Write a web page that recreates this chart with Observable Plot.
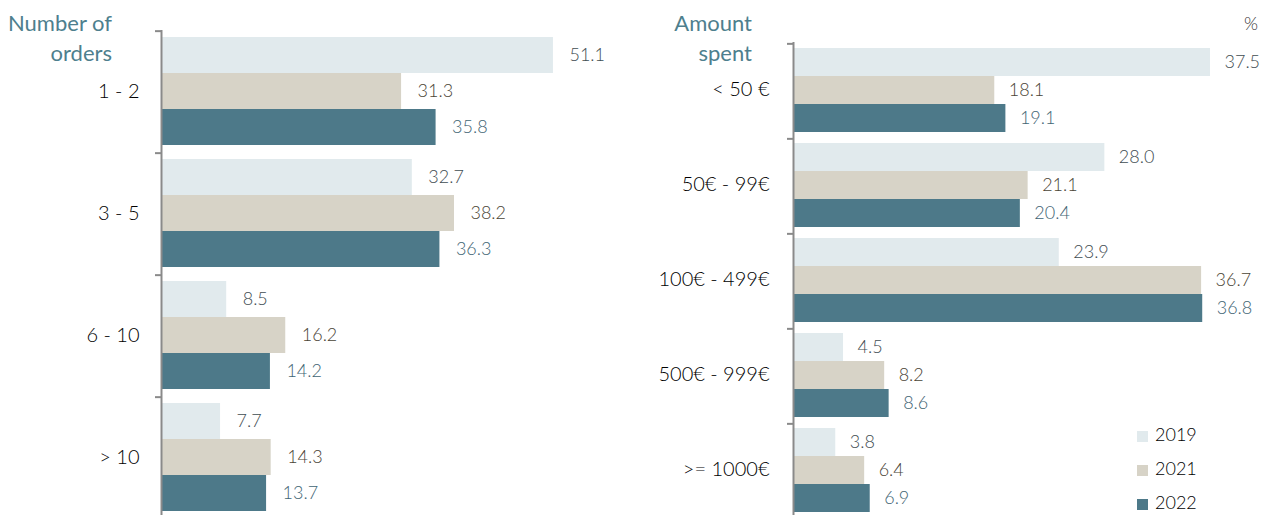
<!DOCTYPE html>
<html><head><meta charset="utf-8">
<script src="https://cdn.jsdelivr.net/npm/d3@7"></script>
<script src="https://cdn.jsdelivr.net/npm/@observablehq/plot@0.6"></script>
<style>
body{margin:0;background:#fff;font-family:Lato,sans-serif;font-weight:300;overflow:hidden}
#wrap{position:relative;width:1261px;height:515px;overflow:hidden}
.pl{position:absolute;top:0}
.title{position:absolute;top:8px;text-align:right;color:#4e7f8e;font-size:22px;line-height:30px;font-weight:400}
.leg{position:absolute;left:1137px;font-size:18px;color:#000;height:20px;line-height:20px}
.leg span{display:inline-block;width:11px;height:11px;margin-right:7px;vertical-align:-1px}
</style></head>
<body><div id="wrap"></div>
<script>
const years = ["2019", "2021", "2022"];
const barColors = ["#e1eaed", "#d7d3c7", "#4d7989"];
const labelColors = ["#3f4d52", "#4a4436", "#3f6574"];

const orderCats = ["1 - 2", "3 - 5", "6 - 10", "> 10"];
const orders2019 = [51.1, 32.7, 8.5, 7.7];
const orders2021 = [31.3, 38.2, 16.2, 14.3];
const orders2022 = [35.8, 36.3, 14.2, 13.7];

const spentCats = ["< 50 €", "50€ - 99€", "100€ - 499€", "500€ - 999€", ">= 1000€"];
const spent2019 = [37.5, 28.0, 23.9, 4.5, 3.8];
const spent2021 = [18.1, 21.1, 36.7, 8.2, 6.4];
const spent2022 = [19.1, 20.4, 36.8, 8.6, 6.9];

function rowsOf(cats, series) {
  const rows = [];
  cats.forEach((c, i) => series.forEach((s, j) => rows.push({cat: c, year: years[j], value: s[i]})));
  return rows;
}

function panel(cats, series, o) {
  const rows = rowsOf(cats, series);
  const step = (o.height - o.marginTop - o.marginBottom) / cats.length;
  const inner = step / (3 + 2 * o.po);
  const tickDy = -(o.po * inner + inner / 2);
  const tickLen = 6 / ((o.width - o.marginLeft - o.marginRight) / o.xmax);
  return Plot.plot({
    width: o.width, height: o.height,
    marginLeft: o.marginLeft, marginRight: o.marginRight,
    marginTop: o.marginTop, marginBottom: o.marginBottom,
    style: {fontFamily: "Lato, sans-serif", fontWeight: 300, fontSize: "20px", color: "#000", background: "transparent", overflow: "visible"},
    facet: {data: rows, y: "cat"},
    fy: {domain: cats, padding: 0, tickSize: 0, tickPadding: o.tickPadding, label: null},
    y: {domain: years, paddingInner: 0, paddingOuter: o.po, axis: null},
    x: {domain: [0, o.xmax], axis: null},
    color: {domain: years, range: barColors},
    marks: [
      Plot.barX(rows, {x: "value", y: "year", fill: "year"}),
      Plot.ruleX([0], {stroke: "#8a8a8a", strokeWidth: 2}),
      Plot.ruleY([years[0]], {y: d => d, x1: -tickLen, x2: 0, dy: tickDy, stroke: "#8a8a8a", strokeWidth: 2}),
      ...years.map((yr, j) => Plot.text(rows, {
        filter: d => d.year === yr, x: "value", y: "year",
        text: d => d.value.toFixed(1), textAnchor: "start", dx: o.dx,
        fill: labelColors[j], fontSize: 18
      }))
    ]
  });
}

const wrap = document.getElementById("wrap");
const left = panel(orderCats, [orders2019, orders2021, orders2022],
  {width: 630, height: 520, marginLeft: 161, marginRight: 8.8, marginTop: 28, marginBottom: 1, po: 0.158, xmax: 60, dx: 16, tickPadding: 22});
left.classList.add("pl"); left.style.left = "0px";
wrap.appendChild(left);

const right = panel(spentCats, [spent2019, spent2021, spent2022],
  {width: 631, height: 520, marginLeft: 163, marginRight: 23.2, marginTop: 41, marginBottom: 2.5, po: 0.143, xmax: 40, dx: 14, tickPadding: 24});
right.classList.add("pl"); right.style.left = "630px";
wrap.appendChild(right);

function addDiv(cls, html, css) {
  const d = document.createElement("div");
  d.className = cls; d.innerHTML = html; Object.assign(d.style, css);
  wrap.appendChild(d);
}
addDiv("title", "Number of<br>orders", {left: "0px", width: "112px"});
addDiv("title", "Amount<br>spent", {left: "600px", width: "152px"});
addDiv("", "%", {position: "absolute", left: "1244px", top: "12px", fontSize: "18px", color: "#333"});
const legY = [424, 458, 492];
years.forEach((yr, j) => addDiv("leg", `<span style="background:${barColors[j]}"></span>${yr}`, {top: legY[j] + "px"}));
</script></body></html>
